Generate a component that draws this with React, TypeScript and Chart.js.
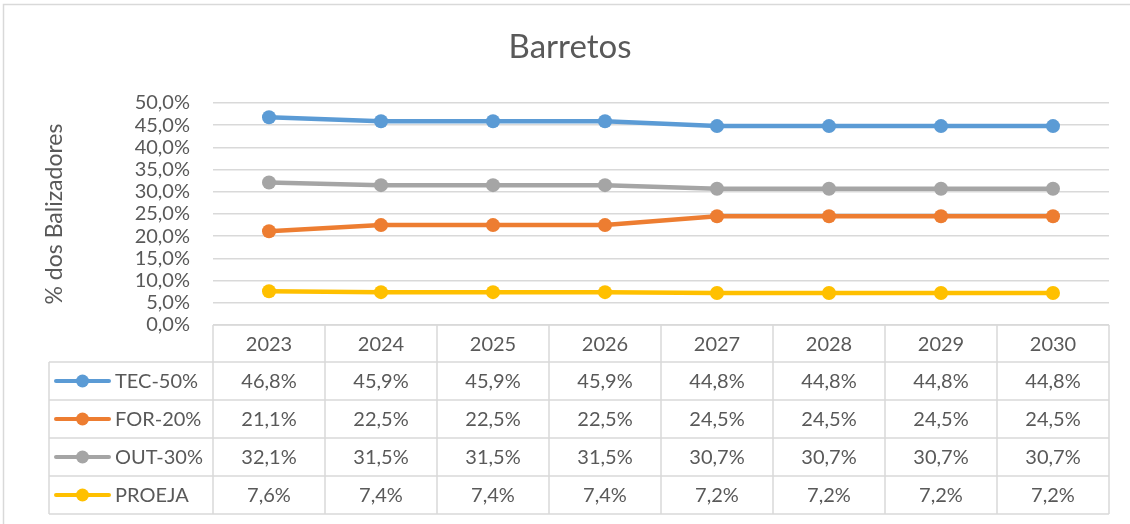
import React, { useEffect, useRef } from "react";
import { Chart, registerables } from "chart.js";
Chart.register(...registerables);

const chartTitle = "Barretos";
const yAxisTitle = "% dos Balizadores";
const years = ["2023", "2024", "2025", "2026", "2027", "2028", "2029", "2030"];
const seriesNames = ["TEC-50%", "FOR-20%", "OUT-30%", "PROEJA"];
const tecValues = [46.8, 45.9, 45.9, 45.9, 44.8, 44.8, 44.8, 44.8];
const forValues = [21.1, 22.5, 22.5, 22.5, 24.5, 24.5, 24.5, 24.5];
const outValues = [32.1, 31.5, 31.5, 31.5, 30.7, 30.7, 30.7, 30.7];
const proejaValues = [7.6, 7.4, 7.4, 7.4, 7.2, 7.2, 7.2, 7.2];
const seriesColors = ["#5B9BD5", "#ED7D31", "#A5A5A5", "#FFC000"];
const yMin = 0;
const yMax = 50;
const yStep = 5;

const FONT = "Lato, 'Open Sans', sans-serif";
const TEXT = "#595959";
const GRID = "#d9d9d9";

const fmt = (v: number) => v.toFixed(1).replace(".", ",") + "%";

const decorPlugin = {
  id: "decor",
  beforeDraw(chart: any) {
    const ctx = chart.ctx;
    ctx.save();
    ctx.fillStyle = "#ffffff";
    ctx.fillRect(0, 0, chart.width, chart.height);
    ctx.strokeStyle = GRID;
    ctx.lineWidth = 1.5;
    ctx.strokeRect(3.5, 4.5, chart.width + 10, chart.height + 10);
    ctx.restore();
  },
  afterDraw(chart: any) {
    const ctx = chart.ctx;
    const area = chart.chartArea;
    const xs = chart.scales.x;
    const n = years.length;
    const colW = (area.right - area.left) / n;
    const top = area.bottom;
    const headerBottom = top + 37;
    const rowH = 38;
    const bottom = headerBottom + rowH * seriesNames.length;
    const legendLeft = 49;
    const datasets = chart.data.datasets;

    ctx.save();
    // Title
    ctx.fillStyle = TEXT;
    ctx.font = `33px ${FONT}`;
    ctx.textAlign = "center";
    ctx.textBaseline = "middle";
    ctx.fillText(chartTitle, 570, 47);

    // Y axis title
    ctx.save();
    ctx.translate(55, 214);
    ctx.rotate(-Math.PI / 2);
    ctx.font = `23px ${FONT}`;
    ctx.fillText(yAxisTitle, 0, 0);
    ctx.restore();

    // Table lines
    ctx.strokeStyle = GRID;
    ctx.lineWidth = 1.5;
    ctx.beginPath();
    ctx.moveTo(area.left, top);
    ctx.lineTo(area.right, top);
    for (let r = 0; r <= seriesNames.length; r++) {
      const y = headerBottom + r * rowH;
      ctx.moveTo(legendLeft, y);
      ctx.lineTo(area.right, y);
    }
    for (let c = 0; c <= n; c++) {
      const x = area.left + c * colW;
      ctx.moveTo(x, top);
      ctx.lineTo(x, bottom);
    }
    ctx.moveTo(legendLeft, headerBottom);
    ctx.lineTo(legendLeft, bottom);
    ctx.stroke();

    // Header text
    ctx.fillStyle = TEXT;
    ctx.font = `20px ${FONT}`;
    ctx.textAlign = "center";
    ctx.textBaseline = "middle";
    years.forEach((yr, i) => {
      ctx.fillText(yr, xs.getPixelForValue(i), (top + headerBottom) / 2 + 1);
    });

    // Rows
    datasets.forEach((ds: any, r: number) => {
      const cy = headerBottom + r * rowH + rowH / 2;
      ctx.strokeStyle = ds.borderColor;
      ctx.lineWidth = 4;
      ctx.lineCap = "round";
      ctx.beginPath();
      ctx.moveTo(56, cy);
      ctx.lineTo(109, cy);
      ctx.stroke();
      ctx.fillStyle = ds.borderColor;
      ctx.beginPath();
      ctx.arc(82.5, cy, 6.5, 0, Math.PI * 2);
      ctx.fill();
      ctx.fillStyle = TEXT;
      ctx.textAlign = "left";
      ctx.fillText(ds.label, 115, cy + 1);
      ctx.textAlign = "center";
      ds.data.forEach((v: number, i: number) => {
        ctx.fillText(fmt(v), xs.getPixelForValue(i), cy + 1);
      });
    });
    ctx.restore();
  },
};

export default function App() {
  const ref = useRef<HTMLCanvasElement | null>(null);
  useEffect(() => {
    document.body.style.margin = "0";
    const canvas = ref.current;
    if (!canvas) return;
    const seriesData = [tecValues, forValues, outValues, proejaValues];
    const chart = new Chart(canvas, {
      type: "line",
      data: {
        labels: years,
        datasets: seriesNames.map((name, i) => ({
          label: name,
          data: seriesData[i],
          borderColor: seriesColors[i],
          backgroundColor: seriesColors[i],
          borderWidth: 4.5,
          pointRadius: 7,
          pointBorderWidth: 0,
          pointBackgroundColor: seriesColors[i],
          tension: 0,
          order: seriesNames.length - i,
        })),
      },
      options: {
        responsive: false,
        animation: false,
        events: [],
        layout: { padding: { left: 0, top: 103, right: 21, bottom: 524 - 325 } },
        plugins: {
          legend: { display: false },
          title: { display: false },
          tooltip: { enabled: false },
        },
        scales: {
          x: {
            display: false,
            offset: true,
            grid: { offset: true },
          },
          y: {
            min: yMin,
            max: yMax,
            afterFit: (scale: any) => {
              scale.width = 213;
            },
            border: { display: false },
            grid: { color: GRID, lineWidth: 1.5, drawTicks: false },
            ticks: {
              stepSize: yStep,
              autoSkip: false,
              padding: 23,
              color: TEXT,
              font: { family: FONT, size: 20 },
              callback: (v: any) => fmt(Number(v)),
            },
          },
        },
      },
      plugins: [decorPlugin],
    });
    return () => chart.destroy();
  }, []);
  return <canvas ref={ref} width={1130} height={524} style={{ display: "block" }} />;
}
